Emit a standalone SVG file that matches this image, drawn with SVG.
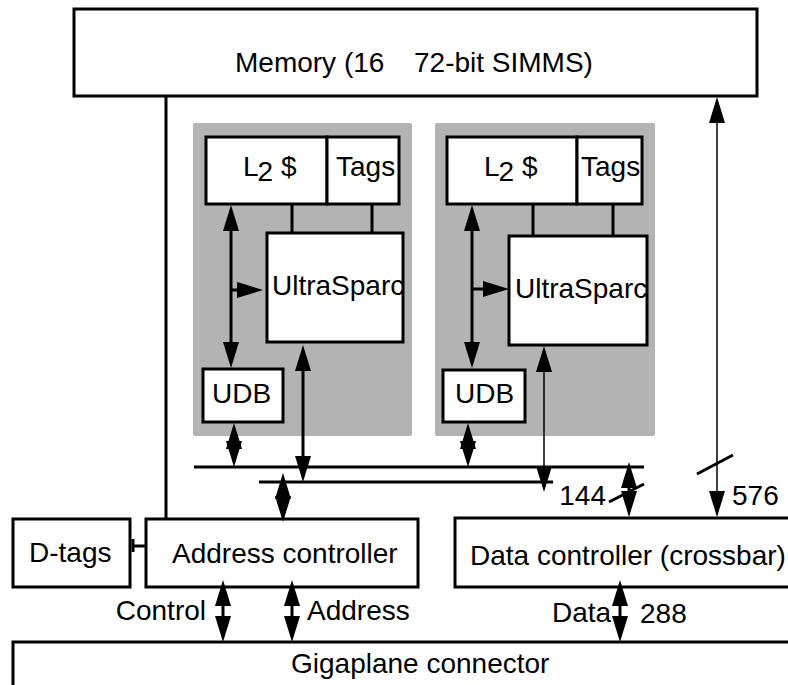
<svg xmlns="http://www.w3.org/2000/svg" width="788" height="685" viewBox="0 0 788 685">
<defs>
<style>
.box{fill:#fff;stroke:#000;stroke-width:3}
.gray{fill:#b3b3b3}
.ln{stroke:#000;stroke-width:3;fill:none}
.thin{stroke-width:1.5}
.t{font-family:"Liberation Sans",Arial,Helvetica,sans-serif;font-size:28px;fill:#000}
.ar{marker-start:url(#ah);marker-end:url(#ah)}
.ae{marker-end:url(#ah)}
</style>
<marker id="ah" markerUnits="userSpaceOnUse" viewBox="0 0 26 16" markerWidth="26" markerHeight="16" refX="16" refY="8" orient="auto-start-reverse"><path d="M0,0L26,8L0,16z" fill="#000"/></marker>
</defs>
<rect width="788" height="685" fill="#fff"/>
<g id="memory"><rect class="box" x="74" y="9" width="683" height="87"/><text class="t" x="235" y="72">Memory (16 <tspan x="414">72-bit SIMMS)</tspan></text></g>
<g id="cpu1">
<rect class="gray" x="193" y="123" width="219" height="313" rx="2"/>
<g id="l2-1"><rect class="box" x="206" y="137" width="121" height="67"/><text class="t" x="243" y="176">L<tspan dx="-1" dy="5">2</tspan><tspan dy="-5"> $</tspan></text></g>
<g id="tags-1"><rect class="box" x="327" y="137" width="72" height="67"/><text class="t" x="336" y="176">Tags</text></g>
<g id="ultra-1"><rect class="box" x="267" y="233" width="136" height="109"/><text class="t" x="272" y="295">UltraSparc</text></g>
<g id="udb-1"><rect class="box" x="203" y="369" width="80" height="53"/><text class="t" x="212" y="403">UDB</text></g>
</g>
<g id="cpu2">
<rect class="gray" x="435" y="123" width="220" height="313" rx="2"/>
<g id="l2-2"><rect class="box" x="447" y="137" width="130" height="67"/><text class="t" x="484" y="176">L<tspan dx="-1" dy="5">2</tspan><tspan dy="-5"> $</tspan></text></g>
<g id="tags-2"><rect class="box" x="577" y="137" width="65" height="67"/><text class="t" x="581" y="176">Tags</text></g>
<g id="ultra-2"><rect class="box" x="509" y="236" width="138" height="109"/><text class="t" x="515" y="298">UltraSparc</text></g>
<g id="udb-2"><rect class="box" x="443" y="370" width="82" height="52"/><text class="t" x="455" y="403">UDB</text></g>
</g>
<g id="dtags"><rect class="box" x="13" y="519" width="117" height="68"/><text class="t" x="29" y="562">D-tags</text></g>
<g id="addr"><rect class="box" x="146" y="519" width="272" height="68"/><text class="t" x="172" y="563">Address controller</text></g>
<g id="data"><rect class="box" x="455" y="518" width="340" height="69"/><text class="t" x="470" y="565">Data controller (crossbar)</text></g>
<g id="giga"><rect class="box" x="13" y="642" width="790" height="60"/><text class="t" x="291" y="673">Gigaplane connector</text></g>
<g id="connectors">
<path class="ln" d="M292,204V233M372,204V233M533,204V236M613,204V236"/>
<path class="ln" d="M166,96V519"/>
<path class="ln" d="M133,539V552M133,546H146"/>
<path class="ln" d="M194,467H644M259,482H553"/>
<line class="ln ar" x1="231" y1="215" x2="231" y2="358"/>
<line class="ln ae" x1="231" y1="290" x2="253" y2="290"/>
<line class="ln ar" x1="303" y1="355" x2="303" y2="472"/>
<line class="ln ar" x1="234" y1="433" x2="234" y2="457"/>
<line class="ln ar" x1="472" y1="215" x2="472" y2="358"/>
<line class="ln ae" x1="472" y1="289" x2="499" y2="289"/>
<line class="ln thin ar" x1="544" y1="356" x2="544" y2="482"/>
<line class="ln ar" x1="468" y1="433" x2="468" y2="457"/>
<line class="ln ar" x1="283" y1="483" x2="283" y2="512"/>
<line class="ln ar" x1="629" y1="472" x2="629" y2="507"/>
<line class="ln thin ar" x1="717" y1="107" x2="717" y2="507"/>
<path class="ln" d="M609,502L644,484M697,474L733,455"/>
<line class="ln ar" x1="223" y1="590" x2="223" y2="632"/>
<line class="ln ar" x1="292" y1="590" x2="292" y2="632"/>
<line class="ln ar" x1="620" y1="590" x2="620" y2="632"/>
</g>
<g id="labels">
<text class="t" x="206" y="620" text-anchor="end">Control</text>
<text class="t" x="307" y="620">Address</text>
<text class="t" x="552" y="622">Data</text>
<text class="t" x="640" y="623">288</text>
<text class="t" x="606" y="505" text-anchor="end">144</text>
<text class="t" x="732" y="505">576</text>
</g>
</svg>
